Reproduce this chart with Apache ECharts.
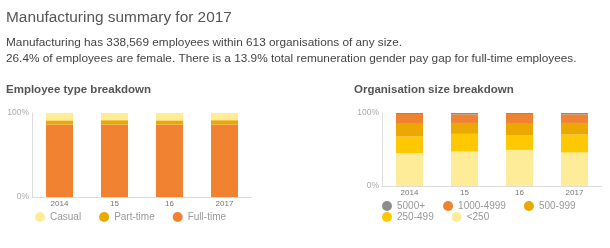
<!DOCTYPE html>
<html>
<head>
<meta charset="utf-8">
<script src="https://cdn.jsdelivr.net/npm/echarts@6/dist/echarts.min.js"></script>
<style>
html, body { margin: 0; padding: 0; background: #fff; }
#chart { width: 610px; height: 248px; }
</style>
</head>
<body>
<div id="chart"></div>
<script>
// 年份
const years = ['2014', '15', '16', '2017'];
const yTicks = ['0%', '100%'];

// 员工类型 (%)
const casual = [8.8, 8.6, 8.8, 8.6];
const partTime = [4.8, 5.0, 4.8, 5.0];
const fullTime = [86.4, 86.4, 86.4, 86.4];

// 机构规模 (%)
const size5000 = [1.4, 1.8, 1.4, 1.8];
const size1000 = [12.3, 11.8, 12.3, 11.8];
const size500 = [18.6, 15.0, 16.4, 15.9];
const size250 = [22.7, 24.1, 20.4, 24.6];
const sizeSmall = [45.0, 47.3, 49.5, 45.9];

const font = 'Liberation Sans, Arial, sans-serif';

let myChart = echarts.init(document.getElementById('chart'));

// 坐标轴通用配置
function xAxisFor(idx) {
    return {
        type: 'category',
        gridIndex: idx,
        data: years,
        axisLine: { lineStyle: { color: '#dcdcdc', width: 1 } },
        axisTick: { show: false },
        axisLabel: { color: '#777', fontSize: 8, fontFamily: font, margin: 3 }
    };
}
function yAxisFor(idx) {
    return {
        type: 'value',
        gridIndex: idx,
        min: 0,
        max: 100,
        interval: 100,
        axisLine: { show: true, lineStyle: { color: '#dcdcdc', width: 1 } },
        axisTick: { show: false },
        splitLine: { show: false },
        axisLabel: {
            color: '#aaa', fontSize: 8.5, fontFamily: font, margin: 3,
            formatter: (v) => yTicks[v === 0 ? 0 : 1]
        }
    };
}
function bar(name, data, color, idx, stack) {
    return {
        name: name,
        type: 'bar',
        stack: stack,
        xAxisIndex: idx,
        yAxisIndex: idx,
        barWidth: 27,
        data: data,
        itemStyle: { color: color },
        emphasis: { disabled: true }
    };
}
function heading(text, left, top, size, weight, color) {
    return {
        text: text, left: left, top: top, padding: 0,
        textStyle: { fontSize: size, fontWeight: weight, color: color, fontFamily: font }
    };
}
function legendRow(names, left, top) {
    return {
        data: names, left: left, top: top, padding: 0, icon: 'circle',
        itemWidth: 10, itemHeight: 10, itemGap: 18,
        textStyle: { color: '#999', fontSize: 10, fontFamily: font }
    };
}

myChart.setOption({
    animation: false,
    title: [
        heading('Manufacturing summary for 2017', 6, 10, 15.4, 'normal', '#555'),
        heading('Manufacturing has 338,569 employees within 613 organisations of any size.', 6, 37, 11.8, 'normal', '#444'),
        heading('26.4% of employees are female. There is a 13.9% total remuneration gender pay gap for full-time employees.', 6, 52.5, 11.8, 'normal', '#444'),
        heading('Employee type breakdown', 6, 84, 11.5, 'bold', '#555'),
        heading('Organisation size breakdown', 354, 84, 11.5, 'bold', '#555')
    ],
    legend: [
        legendRow(['Casual', 'Part-time', 'Full-time'], 35, 212),
        legendRow(['5000+', '1000-4999', '500-999'], 382, 201),
        legendRow(['250-499', '<250'], 382, 212)
    ],
    grid: [
        { left: 32, right: 358, top: 113, bottom: 51 },
        { left: 382, right: 8, top: 113, bottom: 62 }
    ],
    xAxis: [xAxisFor(0), xAxisFor(1)],
    yAxis: [yAxisFor(0), yAxisFor(1)],
    series: [
        bar('Full-time', fullTime, '#f08231', 0, 'a'),
        bar('Part-time', partTime, '#eba800', 0, 'a'),
        bar('Casual', casual, '#ffec94', 0, 'a'),
        bar('<250', sizeSmall, '#ffec99', 1, 'b'),
        bar('250-499', size250, '#ffc800', 1, 'b'),
        bar('500-999', size500, '#eba800', 1, 'b'),
        bar('1000-4999', size1000, '#f08231', 1, 'b'),
        bar('5000+', size5000, '#8c8c8c', 1, 'b')
    ]
});
</script>
</body>
</html>
